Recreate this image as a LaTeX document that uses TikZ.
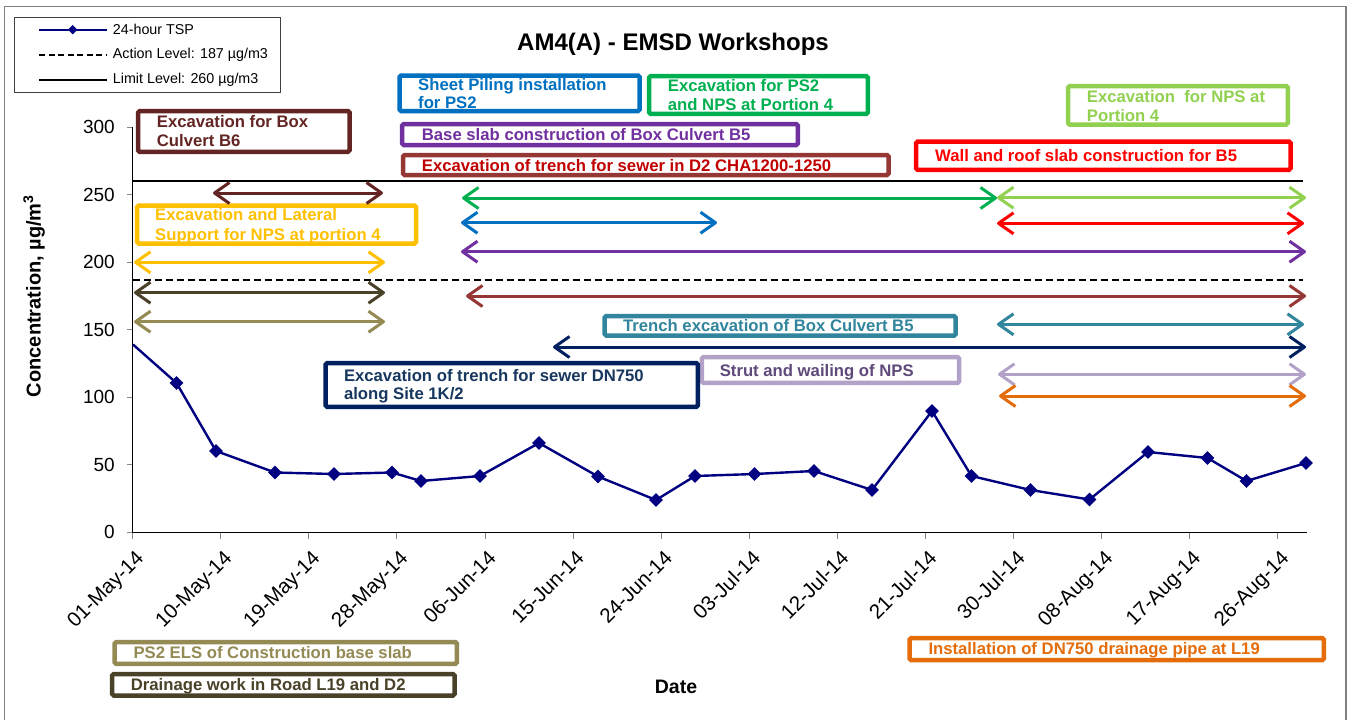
\documentclass[tikz,border=0pt]{standalone}
\usepackage{fontspec}
\setmainfont{Liberation Sans}
\usetikzlibrary{arrows.meta,shapes.geometric}
\definecolor{cBsix}{HTML}{632523}
\definecolor{cBlue}{HTML}{0070C0}
\definecolor{cGreen}{HTML}{00B050}
\definecolor{cPurple}{HTML}{7030A0}
\definecolor{cRedBrd}{HTML}{953735}
\definecolor{cRedTxt}{HTML}{C00000}
\definecolor{cLGreen}{HTML}{92D050}
\definecolor{cRed}{HTML}{FF0000}
\definecolor{cGold}{HTML}{FFC000}
\definecolor{cKhaki}{HTML}{948A54}
\definecolor{cOlive}{HTML}{4A4228}
\definecolor{cTeal}{HTML}{31859C}
\definecolor{cNavyBox}{HTML}{002060}
\definecolor{cNavyTxt}{HTML}{17375E}
\definecolor{cLav}{HTML}{B3A2C7}
\definecolor{cLavTxt}{HTML}{5F497A}
\definecolor{cOrange}{HTML}{E46C0A}
\definecolor{cSeries}{HTML}{000080}
\definecolor{cTick}{HTML}{868686}
\definecolor{cFrame}{HTML}{808080}
\begin{document}
\begin{tikzpicture}[x=1pt,y=-1pt,
  actbox/.style={draw=#1, line width=4.5pt, rounded corners=1.5pt},
  acttext/.style={text=#1, font=\fontsize{16.7}{19.7}\selectfont\bfseries, inner sep=0pt, anchor=base west},
  actspan/.style={draw=#1, line width=3pt, line cap=round,
     {Straight Barb[length=15pt,width=21pt,line join=round]}-{Straight Barb[length=15pt,width=21pt,line join=round]}},
  ytick/.style={font=\fontsize{19}{22}\selectfont, inner sep=0pt, anchor=east},
  xtick/.style={font=\fontsize{20.5}{24}\selectfont, inner sep=0pt, anchor=north east, rotate=45},
  legtext/.style={font=\fontsize{14.3}{16}\selectfont, inner sep=0pt, anchor=west},
  dmark/.style={diamond, fill=cSeries, inner sep=0pt, minimum size=14pt},
  smark/.style={diamond, fill=cSeries, inner sep=0pt, minimum size=9.5pt}
]
\useasboundingbox (0,0) rectangle (1352,720);
\fill[white] (0,0) rectangle (1352,720);
% outer frame
\draw[cFrame, line width=1.5pt] (4.5,720) -- (4.5,6.5) -- (1346,6.5) -- (1346,720);

% title and axis titles
\node[font=\fontsize{24}{28}\selectfont\bfseries] (title) at (673,44) {AM4(A) - EMSD Workshops};
\node[font=\fontsize{20}{24}\selectfont\bfseries, rotate=90] (ytitle) at (34,296) {Concentration, µg/m\textsuperscript{3}};
\node[font=\fontsize{19.5}{24}\selectfont\bfseries] (xtitle) at (676,687) {Date};

% legend
\draw[black!75, line width=0.8pt] (14.3,17.3) rectangle (280.3,92.3);
\draw[cSeries, line width=2.4pt] (39,29.7) -- (107,29.7);
\node[smark] (lm) at (72.7,29.7) {};
\node[legtext] (l1) at (112.7,29.7) {24-hour TSP};
\draw[black, line width=1.8pt, dash pattern=on 6pt off 3.5pt] (39,55) -- (107,55);
\node[legtext] (l2) at (112.7,55) {Action Level: 187 µg/m3};
\draw[black, line width=1.8pt] (39,80) -- (107,80);
\node[legtext] (l3) at (112.7,80) {Limit Level: 260 µg/m3};

% axes
\foreach \v/\yy in {300/127.2,250/194.7,200/262.3,150/329.8,100/397.3,50/464.8,0/532.3}{
  \draw[cTick, line width=1pt] (127,\yy) -- (133,\yy);
  \node[ytick] (yl\v) at (115,\yy) {\v};
}
\foreach \k/\lab in {0/01-May-14,1/10-May-14,2/19-May-14,3/28-May-14,4/06-Jun-14,5/15-Jun-14,6/24-Jun-14,7/03-Jul-14,8/12-Jul-14,9/21-Jul-14,10/30-Jul-14,11/08-Aug-14,12/17-Aug-14,13/26-Aug-14}{
  \pgfmathsetmacro{\xx}{132.6+88.1*\k}
  \draw[cTick, line width=1pt] (\xx,532.3) -- (\xx,538.5);
  \node[xtick] (xl\k) at (\xx+2,549) {\lab};
}
\draw[black, line width=1.3pt] (132.6,127.2) -- (132.6,532.3) -- (1307,532.3);

% limit and action levels
\draw[black, line width=2pt] (132.6,181.3) -- (1303,181.3);
\draw[black, line width=2pt, dash pattern=on 7pt off 4pt] (132.6,280) -- (1303,280);

% activity boxes
\draw[actbox=cBsix] (138.2,111) rectangle (349.5,151.8);
\node[acttext=cBsix] (tBsixa) at (156.7,127) {Excavation for Box};
\node[acttext=cBsix] (tBsixb) at (156.7,146.5) {Culvert B6};

\draw[actbox=cBlue] (399.5,75.5) rectangle (639.5,111);
\node[acttext=cBlue] (tSPa) at (418,90.7) {Sheet Piling installation};
\node[acttext=cBlue] (tSPb) at (418,108.5) {for PS2};

\draw[actbox=cGreen] (649,76.2) rectangle (867.8,113.8);
\node[acttext=cGreen] (tEPa) at (667.7,91.7) {Excavation for PS2};
\node[acttext=cGreen] (tEPb) at (667.7,110) {and NPS at Portion 4};

\draw[actbox=cPurple] (402.2,124) rectangle (797.8,145);
\node[acttext=cPurple] (tBS) at (421.7,140) {Base slab construction of Box Culvert B5};

\draw[actbox=cRedBrd] (403,155) rectangle (888.5,175);
\node[acttext=cRedTxt] (tDT) at (421.7,171.7) {Excavation of trench for sewer in D2 CHA1200-1250};

\draw[actbox=cLGreen] (1068,86.2) rectangle (1287.8,124.5);
\node[acttext=cLGreen] (tNPa) at (1086.7,102.3) {Excavation\ \ for NPS at};
\node[acttext=cLGreen] (tNPb) at (1086.7,121.7) {Portion 4};

\draw[actbox=cRed] (916.2,141.5) rectangle (1290.5,169.8);
\node[acttext=cRed] (tWR) at (935,161.7) {Wall and roof slab construction for B5};

\draw[actbox=cGold] (137.2,205.5) rectangle (416,243.5);
\node[acttext=cGold] (tLSa) at (155,220.7) {Excavation and Lateral};
\node[acttext=cGold] (tLSb) at (155,240.7) {Support for NPS at portion 4};

\draw[actbox=cKhaki] (114.5,642.2) rectangle (456.8,663.8);
\node[acttext=cKhaki] (tEL) at (133.3,658.3) {PS2 ELS of Construction base slab};

\draw[actbox=cOlive] (112.2,674) rectangle (454.5,695.5);
\node[acttext=cOlive] (tDW) at (130.7,690.7) {Drainage work in Road L19 and D2};

\draw[actbox=cTeal] (604.7,316.2) rectangle (955.7,335.5);
\node[acttext=cTeal] (tTE) at (622.9,331.7) {Trench excavation of Box Culvert B5};

\draw[actbox=cLav] (701.8,357.2) rectangle (959.2,382.8);
\node[acttext=cLavTxt] (tSW) at (719.6,376) {Strut and wailing of NPS};

\draw[actbox=cNavyBox] (325.7,363) rectangle (697.8,406.8);
\node[acttext=cNavyTxt] (tDNa) at (343.8,381) {Excavation of trench for sewer DN750};
\node[acttext=cNavyTxt] (tDNb) at (343.8,399.5) {along Site 1K/2};

\draw[actbox=cOrange] (909.5,638.2) rectangle (1323.8,660);
\node[acttext=cOrange] (tIN) at (928.3,654) {Installation of DN750 drainage pipe at L19};

% activity spans
\draw[actspan=cBsix] (213,193) -- (383,193);
\draw[actspan=cGold] (134,262.3) -- (385,262.3);
\draw[actspan=cOlive] (134,292.7) -- (385,292.7);
\draw[actspan=cKhaki] (134,321.7) -- (385,321.7);
\draw[actspan=cGreen] (462,198) -- (997,198);
\draw[actspan=cBlue] (461,222.7) -- (717,222.7);
\draw[actspan=cPurple] (461,251.7) -- (1306,251.7);
\draw[actspan=cRedBrd] (466,296) -- (1306,296);
\draw[actspan=cLGreen] (997,197.7) -- (1306,197.7);
\draw[actspan=cRed] (997,223.3) -- (1304,223.3);
\draw[actspan=cTeal] (997,324.3) -- (1304,324.3);
\draw[actspan=cNavyBox] (553,347) -- (1306,347);
\draw[actspan=cLav] (998,374.3) -- (1306,374.3);
\draw[actspan=cOrange] (999,396) -- (1306,396);

% data series
\draw[cSeries, line width=2.4pt, line join=round]
  (133,344.5) -- (176.5,383) -- (216,451) -- (275,472.5) -- (334,474) -- (392,472.5)
  -- (421,481) -- (480,476) -- (539,443) -- (598,476.5) -- (656,500) -- (695,476)
  -- (754.5,474) -- (814,471) -- (872,490) -- (932,411) -- (971.5,476) -- (1030.5,490)
  -- (1089.5,499.5) -- (1148,452) -- (1207.5,458) -- (1246.5,481) -- (1306,463);
\foreach \px/\py [count=\i] in {176.5/383,216/451,275/472.5,334/474,392/472.5,421/481,480/476,539/443,598/476.5,656/500,695/476,754.5/474,814/471,872/490,932/411,971.5/476,1030.5/490,1089.5/499.5,1148/452,1207.5/458,1246.5/481,1306/463}{
  \node[dmark] (p\i) at (\px,\py) {};
}
\end{tikzpicture}
\end{document}
